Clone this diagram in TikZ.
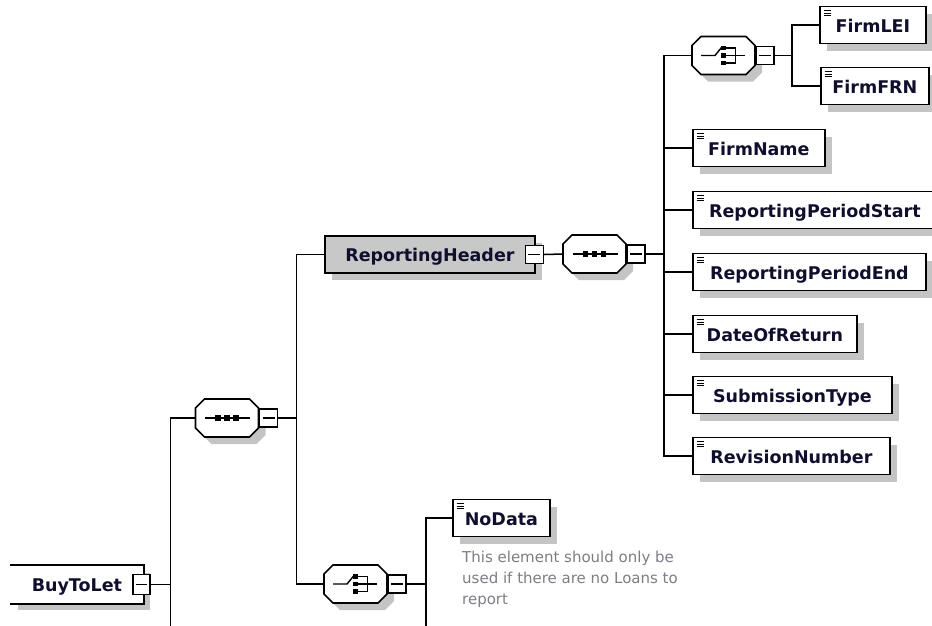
\documentclass[tikz,border=0pt]{standalone}
\usepackage{fontspec}
\newfontfamily\dvs{DejaVu Sans}
\usetikzlibrary{shadows}
\definecolor{shadowgray}{RGB}{196,196,196}
\definecolor{rhfill}{RGB}{200,200,200}
\definecolor{namecol}{RGB}{15,15,45}
\definecolor{notecol}{RGB}{125,125,135}
\newcommand\octo[3]{\path[#3] ({#1-22.5},{#2-19}) -- ({#1+22.5},{#2-19}) -- ({#1+31.5},{#2-10}) -- ({#1+31.5},{#2+10}) -- ({#1+22.5},{#2+19}) -- ({#1-22.5},{#2+19}) -- ({#1-31.5},{#2+10}) -- ({#1-31.5},{#2-10}) -- cycle;}
\newcommand\compbase[3]{%
 \octo{#2+7}{#3+7}{fill=shadowgray}
 \octo{#2}{#3}{draw=black, fill=white, line width=1.7pt}
 \node[inner sep=0pt, minimum width=63pt, minimum height=38pt] (#1) at (#2,#3) {};
 \node[minusbox, anchor=west] (#1-m) at (#1.east) {};}
\newcommand\seqcomp[3]{\compbase{#1}{#2}{#3}
 \draw[line width=1.4pt] ({#2-22},#3) -- ({#2+23},#3);
 \foreach \d in {-9,0,9}{\fill ({#2+(\d)-2.7},{#3-2.7}) rectangle ({#2+(\d)+2.7},{#3+2.7});}}
\newcommand\choicecomp[3]{\compbase{#1}{#2}{#3}
 \draw[line width=1.4pt] ({#2-22.5},#3) -- ({#2-8.5},#3) -- ({#2-2},{#3-8});
 \foreach \d in {-7.5,0,7.5}{\fill ({#2-2.4},{#3+(\d)-2.4}) rectangle ({#2+2.4},{#3+(\d)+2.4});}
 \draw[line width=1.4pt] ({#2+2},{#3-7.5}) -- ({#2+12},{#3-7.5}) -- ({#2+12},{#3+7.5}) -- ({#2+2},{#3+7.5}) ({#2+2},#3) -- ({#2+21},#3);}
\begin{document}
\begin{tikzpicture}[x=1pt,y=-1pt,
 conn/.style={line width=1.5pt, draw=black},
 elem/.style={draw=black, line width=1.8pt, fill=white, minimum height=37pt, inner sep=0pt,
   text height=16pt, text depth=2pt, anchor=west, text=namecol,
   font=\dvs\bfseries\fontsize{17.5}{20}\selectfont,
   drop shadow={shadow xshift=7pt, shadow yshift=-7pt, fill=shadowgray, opacity=1}},
 typed/.style={path picture={\foreach \k in {0,1,2}{\draw[line width=1pt,black] ([xshift=4pt,yshift={-4pt-2.6pt*\k}]path picture bounding box.north west) -- ++(7.5pt,0pt);}}},
 minusbox/.style={draw=black, fill=white, line width=1.6pt, minimum width=18pt, minimum height=18pt, inner sep=0pt,
   path picture={\draw[line width=1.4pt] ([xshift=3pt]path picture bounding box.west) -- ([xshift=-3pt]path picture bounding box.east);}}]
\useasboundingbox (0,0) rectangle (932,625);
\coordinate (bot) at (0,627);
% elements
\node[elem, typed, minimum width=106pt] (lei) at (819,25) {FirmLEI};
\node[elem, typed, minimum width=108pt] (frn) at (820,86) {FirmFRN};
\node[elem, typed, minimum width=132pt] (fname) at (692,148) {FirmName};
\node[elem, typed, minimum width=244pt] (rps) at (692,210) {ReportingPeriodStart};
\node[elem, typed, minimum width=233pt] (rpe) at (692,272) {ReportingPeriodEnd};
\node[elem, typed, minimum width=164pt] (dor) at (692,334) {DateOfReturn};
\node[elem, typed, minimum width=199pt] (st) at (692,395) {SubmissionType};
\node[elem, typed, minimum width=197pt] (rn) at (692,456) {RevisionNumber};
\node[elem, typed, minimum width=97pt] (nd) at (452,518) {NoData};
\node[elem, fill=rhfill, minimum width=210pt] (rh) at (324,254.5) {ReportingHeader};
\node[minusbox] (rh-m) at ([xshift=-1.5pt]rh.east) {};
\node[elem, draw=none, minimum width=132pt] (btl) at (10,584.5) {BuyToLet};
\draw[line width=1.8pt] (btl.north west) -- (btl.north east) -- (btl.south east) -- (btl.south west);
\node[minusbox, minimum width=17pt, minimum height=20pt] (btl-m) at ([xshift=-2.5pt]btl.east) {};
% compositors
\seqcomp{seq1}{227}{418}
\seqcomp{seq2}{594.5}{254}
\choicecomp{ch1}{723.5}{55.5}
\choicecomp{ch2}{355.5}{584}
% note
\node[anchor=north west, align=left, text=notecol, font=\dvs\fontsize{15}{21}\selectfont, inner sep=0pt] (note) at (462,551) {This element should only be\\used if there are no Loans to\\report};
% connectors
\draw[conn] (btl-m.east) -- ++(20,0) coordinate (t0);
\draw[conn] (t0 |- bot) -- (t0 |- seq1.west) -- (seq1.west);
\draw[conn] (seq1-m.east) -- ++(18,0) coordinate (t1);
\draw[conn] (rh.west) -| (t1) |- (ch2.west);
\draw[conn] (rh-m.east) -- (seq2.west);
\draw[conn] (seq2-m.east) -- ++(18,0) coordinate (t2);
\draw[conn] (ch1.west) -| (t2) |- (rn.west);
\foreach \n in {fname,rps,rpe,dor,st}{\draw[conn] (\n.west) -- (\n.west -| t2);}
\draw[conn] (ch1-m.east) -- ++(17,0) coordinate (t3);
\draw[conn] (lei.west) -| (t3) |- (frn.west);
\draw[conn] (ch2-m.east) -- ++(19,0) coordinate (t4);
\draw[conn] (nd.west) -| (t4) -- (t4 |- bot);
\end{tikzpicture}
\end{document}
